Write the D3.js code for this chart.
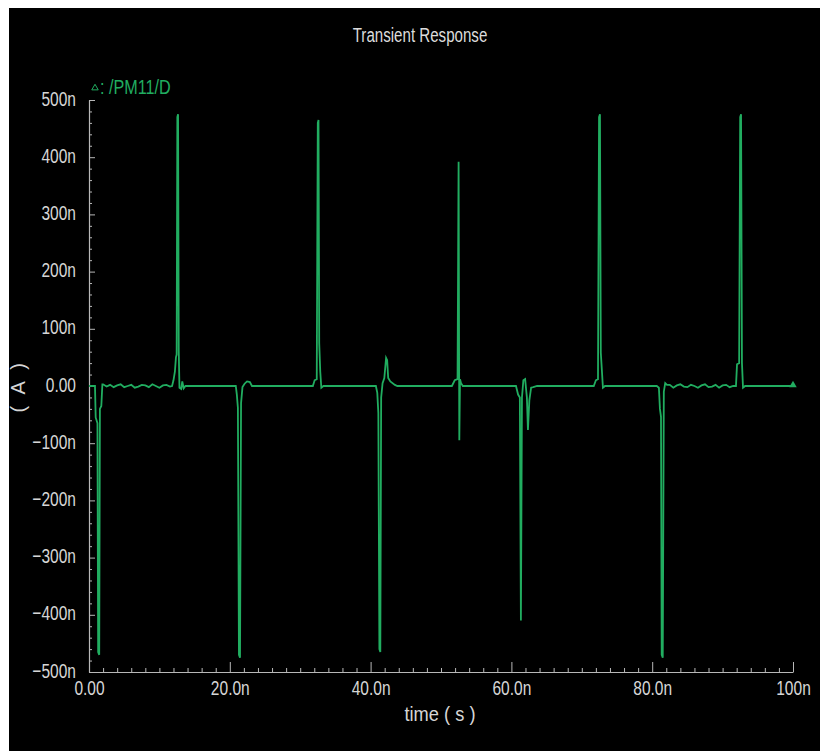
<!DOCTYPE html>
<html>
<head>
<meta charset="utf-8">
<script src="https://cdn.jsdelivr.net/npm/d3@7"></script>
<style>
  html, body { margin: 0; padding: 0; background: #fff; }
  svg { display: block; }
  text { font-family: "Liberation Sans", Arial, sans-serif; }
</style>
</head>
<body>
<svg id="chart" width="820" height="752"></svg>
<script>
// ---- data (time in ns, current in nA) ----
const chartTitle = "Transient Response";
const seriesName = ": /PM11/D";
const xAxisTitle = "time ( s )";
const yAxisTitle = "( A )";

const xMajorTicks = [0, 20, 40, 60, 80, 100];
const xTickLabels = ["0.00", "20.0n", "40.0n", "60.0n", "80.0n", "100n"];
const yMajorTicks = [-500, -400, -300, -200, -100, 0, 100, 200, 300, 400, 500];
const yTickLabels = ["\u2212500n", "\u2212400n", "\u2212300n", "\u2212200n", "\u2212100n", "0.00",
                     "100n", "200n", "300n", "400n", "500n"];

// waveform /PM11/D : [time ns, current nA]
const waveform = [
  [0,0],[0.85,0],[0.95,-55],[1.2,-65],[1.3,-465],[1.45,-470],[1.55,-40],[1.75,-35],[1.9,3],
  [2.0,3],[2.5,-1],[3.0,2],[3.5,-2],[4.0,1],[4.5,3],[5.0,-2],[5.5,0],[6.0,2],[6.5,-3],
  [7.0,-1],[7.5,2],[8.0,1],[8.5,-2],[9.0,3],[9.5,0],[10.0,-3],[10.5,1],[11.0,2],[11.5,-1],
  [11.8,0],[12.0,10],[12.2,25],[12.35,50],[12.45,55],[12.55,470],[12.65,475],[12.75,60],
  [12.85,-3],[13.1,-5],[13.25,8],[13.45,-4],[13.7,0],
  [20.85,0],[21.0,-15],[21.15,-38],[21.3,-470],[21.45,-475],[21.6,-30],[21.8,-2],[22.1,4],
  [22.45,8],[22.85,7],[23.15,0],
  [31.8,0],[32.05,10],[32.35,12],[32.5,460],[32.6,465],[32.7,75],[32.85,25],[33.0,-3],[33.3,0],
  [40.75,0],[40.95,-12],[41.1,-47],[41.25,-460],[41.38,-465],[41.5,-20],[41.7,5],[41.95,14],
  [42.2,49],[42.35,45],[42.5,14],[42.8,8],[43.45,2],[43.8,0],
  [51.55,0],[51.95,10],[52.35,12],[52.5,392],[52.6,-95],[52.7,12],[52.85,5],[53.1,0],
  [60.65,0],[60.95,-15],[61.2,-20],[61.35,-410],[61.5,-20],[61.7,10],[61.95,12],[62.2,-20],
  [62.35,-77],[62.55,-25],[62.8,-3],[63.1,-2],[63.65,0],
  [71.7,0],[72.0,10],[72.3,12],[72.45,470],[72.58,475],[72.7,58],[72.85,28],[73.0,-3],[73.3,0],
  [80.65,0],[80.95,-3],[81.1,-40],[81.25,-54],[81.35,-470],[81.5,-475],[81.65,-10],[81.85,5],[82.1,2],
  [82.5,2],[83.0,-3],[83.5,1],[84.0,3],[84.5,-1],[85.0,-2],[85.5,2],[86.0,0],[86.5,-3],[87.0,1],
  [87.5,3],[88.0,-2],[88.5,-1],[89.0,2],[89.5,-3],[90.0,1],[90.5,2],[91.0,-2],[91.5,0],
  [91.9,0],[92.05,38],[92.35,40],[92.5,470],[92.62,475],[92.75,40],[92.9,-3],[93.2,0],
  [100,0]
];

// ---- drawing ----
const svg = d3.select("#chart");
const lineColor = "#21ad60";
const textColor = "#d6d6d6";
const axisColor = "#b8b8b8";

svg.append("rect").attr("x", 9).attr("y", 8).attr("width", 811).attr("height", 743).attr("fill", "#000");

const x = d3.scaleLinear().domain([0, 100]).range([89, 793]);
const y = d3.scaleLinear().domain([-500, 500]).range([672, 100]);

function styleAxis(g) {
  g.selectAll("path.domain").attr("stroke", axisColor).attr("stroke-width", 1.2);
  g.selectAll(".tick line").attr("stroke", axisColor).attr("stroke-width", 1);
}

// x minor ticks
const xMinor = d3.range(0, 101, 2).filter(v => v % 20 !== 0);
svg.append("g").attr("transform", "translate(0,672)")
  .call(d3.axisBottom(x).tickValues(xMinor).tickSize(-4).tickSizeOuter(0).tickFormat(""))
  .call(g => g.select("path.domain").remove())
  .call(styleAxis);

// x major ticks
const gx = svg.append("g").attr("transform", "translate(0,672)")
  .call(d3.axisBottom(x).tickValues(xMajorTicks).tickSize(-10).tickSizeOuter(0)
        .tickFormat((d, i) => xTickLabels[i]))
  .call(styleAxis);
gx.selectAll(".tick text")
  .attr("y", 0).attr("dy", 0)
  .attr("transform", "translate(0,23) scale(0.74,1)")
  .attr("fill", textColor).attr("font-size", 21)
  .attr("font-family", "Liberation Sans, Arial, sans-serif");

// y minor ticks
const yMinor = d3.range(-500, 501, 20).filter(v => v % 100 !== 0);
svg.append("g").attr("transform", "translate(89,0)")
  .call(d3.axisLeft(y).tickValues(yMinor).tickSize(-3).tickSizeOuter(0).tickFormat(""))
  .call(g => g.select("path.domain").remove())
  .call(styleAxis);

// y major ticks
const gy = svg.append("g").attr("transform", "translate(89,0)")
  .call(d3.axisLeft(y).tickValues(yMajorTicks).tickSize(-6).tickSizeOuter(0)
        .tickFormat((d, i) => yTickLabels[i]))
  .call(styleAxis);
gy.selectAll(".tick text")
  .attr("x", 0).attr("dy", 0)
  .attr("text-anchor", "end")
  .attr("transform", "translate(-13,5) scale(0.74,1)")
  .attr("fill", textColor).attr("font-size", 21)
  .attr("font-family", "Liberation Sans, Arial, sans-serif");

// waveform
const line = d3.line().x(d => x(d[0])).y(d => y(d[1]));
svg.append("path").datum(waveform)
  .attr("d", line)
  .attr("fill", "none")
  .attr("stroke", lineColor)
  .attr("stroke-width", 1.8)
  .attr("stroke-linejoin", "miter");

// end marker
const last = waveform[waveform.length - 1];
svg.append("path")
  .attr("d", d3.symbol(d3.symbolTriangle, 24)())
  .attr("transform", `translate(${x(last[0])},${y(last[1]) - 1})`)
  .attr("fill", lineColor);

// title
svg.append("text")
  .attr("transform", "translate(420,42) scale(0.72,1)")
  .attr("text-anchor", "middle")
  .attr("font-size", 21)
  .attr("fill", "#dcdcdc")
  .text(chartTitle);

// legend
svg.append("path")
  .attr("d", d3.symbol(d3.symbolTriangle, 18)())
  .attr("transform", "translate(95,88)")
  .attr("fill", "none")
  .attr("stroke", lineColor)
  .attr("stroke-width", 1);
svg.append("text")
  .attr("transform", "translate(100,94) scale(0.77,1)")
  .attr("font-size", 21)
  .attr("fill", lineColor)
  .text(seriesName);

// axis titles
svg.append("text")
  .attr("transform", "translate(440,721) scale(0.87,1)")
  .attr("text-anchor", "middle")
  .attr("font-size", 21)
  .attr("fill", textColor)
  .text(xAxisTitle);

svg.append("text")
  .attr("transform", "translate(25,386) rotate(-90)")
  .attr("text-anchor", "middle")
  .attr("font-size", 20)
  .attr("letter-spacing", 3.5)
  .attr("fill", textColor)
  .text(yAxisTitle);
</script>
</body>
</html>
